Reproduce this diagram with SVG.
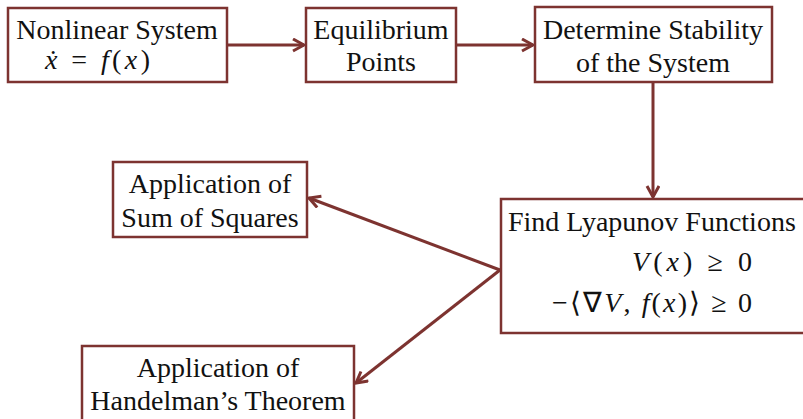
<svg xmlns="http://www.w3.org/2000/svg" width="803" height="419" viewBox="0 0 803 419">
<style>
.box{fill:#fff;stroke:#7d3330;stroke-width:2.5}
.t{font-family:"Liberation Serif","Times New Roman",serif;font-size:28px;fill:#111}
.m{font-family:"Liberation Serif","Times New Roman",serif;font-size:28px;fill:#111}
.i{font-style:italic}
.c{stroke:#7d3330;stroke-width:3;fill:none}
</style>
<defs>
<marker id="ah" markerUnits="userSpaceOnUse" markerWidth="16" markerHeight="16" refX="13" refY="7" orient="auto">
<path d="M2,1 L13,7 L2,13" fill="none" stroke="#7d3330" stroke-width="3"/>
</marker>
</defs>
<rect width="803" height="419" fill="#fff"/>
<g id="connectors">
<line class="c" x1="227" y1="45" x2="304" y2="45" marker-end="url(#ah)"/>
<line class="c" x1="456" y1="45" x2="533" y2="45" marker-end="url(#ah)"/>
<line class="c" x1="653" y1="82" x2="653" y2="197" marker-end="url(#ah)"/>
<line class="c" x1="500" y1="270" x2="309" y2="198" marker-end="url(#ah)"/>
<line class="c" x1="500" y1="270" x2="356" y2="383" marker-end="url(#ah)"/>
</g>
<g id="n1">
<rect class="box" x="8" y="8" width="219" height="74"/>
<text class="t" x="117" y="39" text-anchor="middle">Nonlinear System</text>
<text class="m" x="45" y="69" textLength="105" lengthAdjust="spacing"><tspan class="i">ẋ</tspan> = <tspan class="i">f</tspan>(<tspan class="i">x</tspan>)</text>
</g>
<g id="n2">
<rect class="box" x="306" y="8" width="150" height="74"/>
<text class="t" x="381" y="39" text-anchor="middle">Equilibrium</text>
<text class="t" x="381" y="71" text-anchor="middle">Points</text>
</g>
<g id="n3">
<rect class="box" x="535" y="7" width="237" height="75"/>
<text class="t" x="653" y="39" text-anchor="middle">Determine Stability</text>
<text class="t" x="653" y="72" text-anchor="middle">of the System</text>
</g>
<g id="n4">
<rect class="box" x="501" y="199" width="310" height="134"/>
<text class="t" x="508" y="231">Find Lyapunov Functions</text>
<text class="m" x="632" y="271" textLength="120" lengthAdjust="spacing"><tspan class="i">V</tspan>(<tspan class="i">x</tspan>) ≥ 0</text>
<text class="m" x="552" y="312" textLength="200" lengthAdjust="spacing">−⟨∇<tspan class="i">V</tspan>, <tspan class="i">f</tspan>(<tspan class="i">x</tspan>)⟩ ≥ 0</text>
</g>
<g id="n5">
<rect class="box" x="113" y="162" width="194" height="75"/>
<text class="t" x="210" y="193" text-anchor="middle">Application of</text>
<text class="t" x="210" y="227" text-anchor="middle">Sum of Squares</text>
</g>
<g id="n6">
<rect class="box" x="82" y="346" width="272" height="80"/>
<text class="t" x="218" y="377" text-anchor="middle">Application of</text>
<text class="t" x="218" y="410" text-anchor="middle">Handelman’s Theorem</text>
</g>
</svg>
